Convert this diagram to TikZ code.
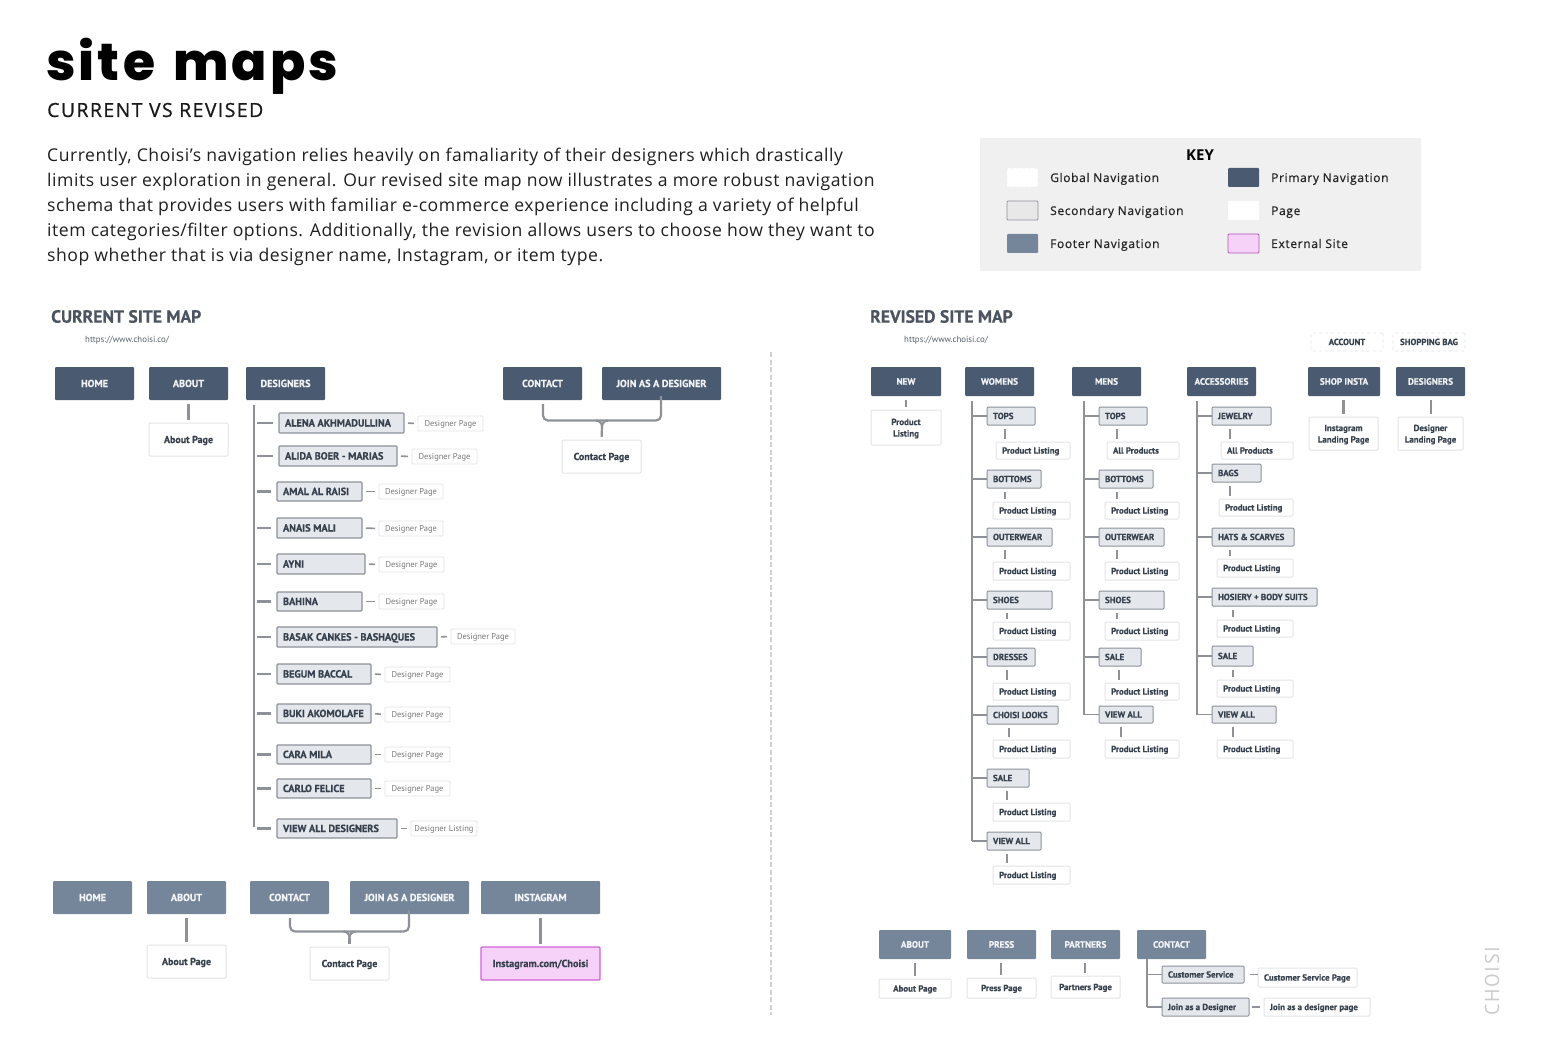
\documentclass[tikz,border=0pt]{standalone}
\usepackage{fontspec}
\setmainfont{Open Sans}
\newfontfamily\titlefont[UprightFont=* ExtraBold,LetterSpace=6]{Poppins}
\newfontfamily\subfont[FakeBold=0.7,LetterSpace=7.2]{Open Sans}
\newfontfamily\keyfont[FakeBold=0.6,LetterSpace=5.4]{Open Sans}
\newfontfamily\bodyfont[LetterSpace=3]{Open Sans}
\newfontfamily\din[BoldFont=* Bold,BoldFeatures={FakeBold=0.5}]{PT Sans}
\usetikzlibrary{calc}
\definecolor{prim}{HTML}{4A5A70}
\definecolor{foot}{HTML}{76869A}
\definecolor{secf}{HTML}{E4E7EB}
\definecolor{secd}{HTML}{8C929A}
\definecolor{pagd}{HTML}{E2E4E7}
\definecolor{linec}{HTML}{8E9298}
\definecolor{labc}{HTML}{37414E}
\definecolor{pinkf}{HTML}{F6D2F9}
\definecolor{pinkd}{HTML}{D062D8}
\definecolor{keybg}{HTML}{F0F0F0}
\tikzset{
  box/.style={inner sep=0pt,outer sep=0pt,rounded corners=1pt},
  caps/.style={text height=#1,text depth=0pt},
  prima/.style={box,caps=7pt,fill=prim,text=white!92!prim,font=\din\bfseries\fontsize{10.2}{11}\selectfont},
  primb/.style={box,caps=6.4pt,fill=prim,text=white!92!prim,font=\din\bfseries\fontsize{9.2}{10}\selectfont},
  foota/.style={box,caps=7pt,fill=foot,text=white!92!foot,font=\din\bfseries\fontsize{10.2}{11}\selectfont},
  footb/.style={box,caps=6.4pt,fill=foot,text=white!92!foot,font=\din\bfseries\fontsize{9.2}{10}\selectfont},
  seca/.style={box,caps=7pt,fill=secf,draw=secd,line width=1.2pt,text=labc,font=\din\bfseries\fontsize{10.3}{12}\selectfont},
  secb/.style={box,caps=6.2pt,fill=secf,draw=secd,line width=1pt,text=labc,font=\din\bfseries\fontsize{8.9}{10}\selectfont},
  pagea/.style={box,caps=7pt,fill=white,draw=pagd,line width=1pt,text=labc,font=\din\bfseries\fontsize{10}{11.5}\selectfont},
  pageb/.style={box,caps=6.2pt,fill=white,draw=pagd,line width=1pt,text=labc,font=\din\bfseries\fontsize{8.9}{11.5}\selectfont},
  pagem/.style={box,fill=white,draw=pagd,line width=1pt,text=labc,align=center,font=\din\bfseries\fontsize{8.9}{11.5}\selectfont},
  pagec/.style={box,caps=6pt,fill=white,draw=pagd,line width=.8pt,text=gray!95!black,font=\din\fontsize{8.5}{10}\selectfont},
  glob/.style={box,caps=6pt,fill=white,draw=pagd,dashed,line width=.8pt,text=labc,font=\din\bfseries\fontsize{8.8}{10}\selectfont},
  ext/.style={box,caps=7pt,fill=pinkf,draw=pinkd,line width=1.4pt,text=labc,font=\din\bfseries\fontsize{10.3}{11}\selectfont},
  conn/.style={draw=linec,line width=2.2pt},
  bracket/.style={draw=linec,line width=2.2pt,rounded corners=5pt},
  keylab/.style={inner sep=0pt,anchor=base west,text=black!85,font=\keyfont\fontsize{12}{14}\selectfont},
  sectitle/.style={inner sep=0pt,anchor=west,text=labc!90!white,font=\din\bfseries\fontsize{17.6}{20}\selectfont},
  urltext/.style={inner sep=0pt,anchor=west,text=labc!85!white,font=\din\fontsize{8.8}{10}\selectfont},
}
% generic box: \bx[style]{name}{x0,y0,x1,y1}{text}
\makeatletter
\newcommand\bx[4][]{\bx@parse{#1}{#2}{#4}#3;}
\def\bx@parse#1#2#3#4,#5,#6,#7;{%
  \pgfmathsetmacro\bxW{#6-#4}\pgfmathsetmacro\bxH{#7-#5}%
  \pgfmathsetmacro\bxX{(#4+#6)/2}\pgfmathsetmacro\bxY{(#5+#7)/2}%
  \node[#1,minimum width=\bxW pt,minimum height=\bxH pt] (#2) at (\bxX,\bxY) {#3};}
% left-aligned box
\newcommand\bxl[4][]{\bxl@parse{#1}{#2}{#4}#3;}
\def\bxl@parse#1#2#3#4,#5,#6,#7;{%
  \pgfmathsetmacro\bxW{#6-#4}\pgfmathsetmacro\bxH{#7-#5}%
  \pgfmathsetmacro\bxX{(#4+#6)/2}\pgfmathsetmacro\bxY{(#5+#7)/2}%
  \node[#1,minimum width=\bxW pt,minimum height=\bxH pt] (#2) at (\bxX,\bxY) {\makebox[\bxW pt][l]{\hspace*{6pt}#3}};}
\makeatother
% vertical link at given x between two boxes
\newcommand\vc[3]{\coordinate (tmpx) at (#3,0);\draw[conn,shorten <=4pt,shorten >=3pt] (#1.south -| tmpx) -- (#2.north -| tmpx);}
% revised tree item: \titem{name}{sec}{label}{linkx}{page}{pagetext}
\newcommand\titem[6]{\bxl[secb]{#1}{#2}{#3}\bxl[pageb]{#1p}{#5}{#6}\vc{#1}{#1p}{#4}\draw[conn,line width=1.6pt] (trunk |- #1.west) -- (#1.west);}
% current tree row: \drow{name}{sec}{label}{page}{pagetext}
\newcommand\drow[5]{\bxl[seca]{#1}{#2}{#3}\bx[pagec]{#1p}{#4}{#5}\draw[conn,shorten <=3pt,shorten >=6pt] (trunk |- #1.west) -- (#1.west);\draw[conn,line width=1.6pt,shorten <=4pt,shorten >=4pt] (#1.east) -- (#1p.west);}
% curly-brace junction at a coordinate, stem going to a node
\newcommand\bracestem[2]{\draw[conn] ($(#1)+(-6,0)$) to[out=0,in=90] ($(#1)+(0,6)$) to[out=90,in=180] ($(#1)+(6,0)$);\draw[conn,shorten >=3pt] ($(#1)+(0,6)$) -- (#2.north);}
\begin{document}
\begin{tikzpicture}[x=1pt,y=-1pt]
\useasboundingbox (0,0) rectangle (1541,1056);
% header
\node[inner sep=0pt,anchor=base west] (title) at (46,81) {\titlefont\fontsize{52}{60}\selectfont site\hspace{5pt} maps};
\node[inner sep=0pt,anchor=base west,text=black!90] (subtitle) at (47,117) {\subfont\fontsize{19.5}{22}\selectfont CURRENT VS REVISED};
\node[inner sep=0pt,anchor=north west,align=left,text=black!88,font=\bodyfont\fontsize{17.6}{25}\selectfont] (body) at (47,148) {Currently, Choisi’s navigation relies heavily on famaliarity of their designers which drastically\\
limits user exploration in general. Our revised site map now illustrates a more robust navigation\\
schema that provides users with familiar e-commerce experience including a variety of helpful\\
item categories/filter options. Additionally, the revision allows users to choose how they want to\\
shop whether that is via designer name, Instagram, or item type.};
% key
\bx[box,fill=keybg]{keybox}{980,138,1421,271}{}
\node[inner sep=0pt,font=\bfseries\fontsize{15}{17}\selectfont] (keyt) at (1200,155.5) {KEY};
\bx[box,fill=white,draw=keybg,dashed,line width=.6pt]{k1}{1007,168,1038,187}{}
\bx[box,fill=prim]{k2}{1228,168,1259,187}{}
\bx[box,fill=black!9,draw=secd,line width=.8pt]{k3}{1007,201,1038,220}{}
\bx[box,fill=white]{k4}{1228,201,1259,220}{}
\bx[box,fill=foot]{k5}{1007,234,1038,253}{}
\bx[box,fill=pinkf,draw=pinkd!85!black,line width=.8pt]{k6}{1228,234,1259,253}{}
\node[keylab] (k1l) at (1050,182) {Global Navigation};
\node[keylab] (k2l) at (1271,182) {Primary Navigation};
\node[keylab] (k3l) at (1050,215) {Secondary Navigation};
\node[keylab] (k4l) at (1271,215) {Page};
\node[keylab] (k5l) at (1050,248) {Footer Navigation};
\node[keylab] (k6l) at (1271,248) {External Site};
% titles
\node[sectitle] (curt) at (51,316.5) {CURRENT SITE MAP};
\node[urltext] (curu) at (85,340.5) {https://www.choisi.co/};
\node[sectitle] (revt) at (870,316.5) {REVISED SITE MAP};
\node[urltext] (revu) at (904,340.5) {https://www.choisi.co/};
% divider
\coordinate (divt) at (770.5,352);\coordinate (divb) at (770.5,1015);
\draw[draw=black!18,line width=2pt,dash pattern=on 5pt off 2.5pt] (divt) -- (divb);
% === current main nav
\bx[prima]{chome}{55,367,134,400}{HOME}
\bx[prima]{cabout}{149,367,228,400}{ABOUT}
\bx[prima]{cdes}{246,367,325,400}{DESIGNERS}
\bx[prima]{ccon}{503,367,582,400}{CONTACT}
\bx[prima]{cjoin}{602,367,721,400}{JOIN AS A DESIGNER}
\bx[pagea]{caboutp}{149,423,228,456}{About Page}
\bx[pagea]{cconp}{562,440,641,473}{Contact Page}
\vc{cabout}{caboutp}{188.5}
\coordinate (b1a) at (543,0);\coordinate (b1b) at (661,0);\coordinate (b1c) at (602,420.5);
\draw[bracket] (ccon.south -| b1a) ++(0,4) |- (b1c) -| ([yshift=4pt]cjoin.south -| b1b);
\bracestem{b1c}{cconp}
\coordinate (trunk) at (254,0);
\drow{d1}{279,413,404,433}{ALENA AKHMADULLINA}{418,416,483,431}{Designer Page}
\drow{d2}{279,446,397,466}{ALIDA BOER - MARIAS}{412,449,477,464}{Designer Page}
\drow{d3}{277,482,362,501}{AMAL AL RAISI}{379,484,443,499}{Designer Page}
\drow{d4}{277,518,362,538}{ANAIS MALI}{379,521,443,536}{Designer Page}
\drow{d5}{277,554,365,574}{AYNI}{379,557,444,572}{Designer Page}
\drow{d6}{277,592,362,611}{BAHINA}{379,594,444,609}{Designer Page}
\drow{d7}{277,627,437,647}{BASAK CANKES - BASHAQUES}{451,629,515,644}{Designer Page}
\drow{d8}{277,664,371,684}{BEGUM BACCAL}{385,667,450,682}{Designer Page}
\drow{d9}{277,704,371,723}{BUKI AKOMOLAFE}{385,707,450,722}{Designer Page}
\drow{d10}{277,745,371,764}{CARA MILA}{385,747,450,762}{Designer Page}
\drow{d11}{277,779,371,798}{CARLO FELICE}{385,781,450,796}{Designer Page}
\drow{d12}{277,819,397,838}{VIEW ALL DESIGNERS}{411,821,477,836}{Designer Listing}
\draw[conn,shorten <=5pt] (cdes.south -| trunk) -- ([yshift=2pt]d12.west -| trunk);
% === current footer
\bx[foota]{fhome}{53,881,132,914}{HOME}
\bx[foota]{fabout}{147,881,226,914}{ABOUT}
\bx[foota]{fcon}{250,881,329,914}{CONTACT}
\bx[foota]{fjoin}{350,881,469,914}{JOIN AS A DESIGNER}
\bx[foota]{fins}{481,881,600,914}{INSTAGRAM}
\bx[pagea]{faboutp}{147,945,226,978}{About Page}
\bx[pagea]{fconp}{310,947,389,980}{Contact Page}
\bx[ext]{finsp}{481,947,600,980}{Instagram.com/Choisi}
\vc{fabout}{faboutp}{186.5}
\vc{fins}{finsp}{540.5}
\coordinate (b2a) at (290,0);\coordinate (b2b) at (409,0);\coordinate (b2c) at (349.5,931.5);
\draw[bracket] (fcon.south -| b2a) ++(0,4) |- (b2c) -| ([yshift=4pt]fjoin.south -| b2b);
\bracestem{b2c}{fconp}
% === revised global
\bx[glob]{account}{1311,333,1383,351}{ACCOUNT}
\bx[glob]{bag}{1393,333,1465,351}{SHOPPING BAG}
% === revised main nav
\bx[primb]{rnew}{871,367,941,396}{NEW}
\bx[primb]{rwom}{965,367,1034,396}{WOMENS}
\bx[primb]{rmen}{1072,367,1141,396}{MENS}
\bx[primb]{racc}{1187,367,1256,396}{ACCESSORIES}
\bx[primb]{rins}{1308,367,1380,396}{SHOP INSTA}
\bx[primb]{rdes}{1396,367,1465,396}{DESIGNERS}
\bx[pagem]{rnewp}{871,410,941,445}{\rule{0pt}{8.5pt}Product\\Listing}
\bx[pagem]{rinsp}{1309,417,1378,450}{\rule{0pt}{8.5pt}Instagram\\Landing Page}
\bx[pagem]{rdesp}{1398,417,1463,450}{\rule{0pt}{8.5pt}Designer\\Landing Page}
\vc{rnew}{rnewp}{906}
\vc{rins}{rinsp}{1343.5}
\vc{rdes}{rdesp}{1431}
% womens
\coordinate (trunk) at (972,0);
\titem{w1}{987,407,1035,425}{TOPS}{1005}{996,442,1070,459}{Product Listing}
\titem{w2}{987,470,1041,488}{BOTTOMS}{1005}{993,502,1070,519}{Product Listing}
\titem{w3}{987,528,1052,546}{OUTERWEAR}{1005}{993,562,1070,580}{Product Listing}
\titem{w4}{987,591,1052,609}{SHOES}{1007}{993,622,1070,640}{Product Listing}
\titem{w5}{987,648,1035,666}{DRESSES}{1007}{993,683,1070,700}{Product Listing}
\titem{w6}{987,706,1058,724}{CHOISI LOOKS}{1009}{993,740,1070,758}{Product Listing}
\titem{w7}{987,769,1029,787}{SALE}{1007}{993,803,1070,821}{Product Listing}
\titem{w8}{987,832,1041,850}{VIEW ALL}{1007}{993,866,1070,884}{Product Listing}
\draw[conn,shorten <=5pt] (rwom.south -| trunk) -- (w8.west -| trunk);
% mens
\coordinate (trunk) at (1084,0);
\titem{m1}{1099,407,1147,425}{TOPS}{1117}{1107,442,1179,459}{All Products}
\titem{m2}{1099,470,1153,488}{BOTTOMS}{1117}{1105,502,1179,519}{Product Listing}
\titem{m3}{1099,528,1164,546}{OUTERWEAR}{1117}{1105,562,1179,580}{Product Listing}
\titem{m4}{1099,591,1164,609}{SHOES}{1117}{1105,622,1179,640}{Product Listing}
\titem{m5}{1099,648,1141,666}{SALE}{1119}{1105,683,1179,700}{Product Listing}
\titem{m6}{1099,706,1153,723}{VIEW ALL}{1121}{1105,740,1179,758}{Product Listing}
\draw[conn,shorten <=5pt] (rmen.south -| trunk) -- (m6.west -| trunk);
% accessories
\coordinate (trunk) at (1197,0);
\titem{a1}{1212,407,1271,425}{JEWELRY}{1230}{1221,442,1293,459}{All Products}
\titem{a2}{1212,464,1261,482}{BAGS}{1230}{1219,499,1293,516}{Product Listing}
\titem{a3}{1212,528,1294,546}{HATS \& SCARVES}{1230}{1217,559,1293,577}{Product Listing}
\titem{a4}{1212,588,1317,606}{HOSIERY + BODY SUITS}{1233}{1217,620,1293,637}{Product Listing}
\titem{a5}{1212,646,1253,666}{SALE}{1233}{1217,680,1293,697}{Product Listing}
\titem{a6}{1212,706,1276,723}{VIEW ALL}{1233}{1217,740,1293,758}{Product Listing}
\draw[conn,shorten <=5pt] (racc.south -| trunk) -- (a6.west -| trunk);
% === revised footer
\bx[footb]{qabout}{879,930,951,959}{ABOUT}
\bx[footb]{qpress}{967,930,1036,959}{PRESS}
\bx[footb]{qpart}{1051,930,1120,959}{PARTNERS}
\bx[footb]{qcon}{1137,930,1206,959}{CONTACT}
\bx[pageb]{qaboutp}{879,979,951,998}{About Page}
\bx[pageb]{qpressp}{967,978,1036,998}{Press Page}
\bx[pageb]{qpartp}{1051,976,1120,998}{Partners Page}
\vc{qabout}{qaboutp}{915}
\vc{qpress}{qpressp}{1001}
\vc{qpart}{qpartp}{1085}
\coordinate (trunk) at (1147,0);
\bxl[secb]{q1}{1162,966,1244,983}{Customer Service}
\bxl[secb]{q2}{1162,998,1249,1016}{Join as a Designer}
\bxl[pageb]{q1p}{1258,968,1357,987}{Customer Service Page}
\bxl[pageb]{q2p}{1264,998,1370,1016}{Join as a designer page}
\draw[conn,line width=1.6pt] (trunk |- q1.west) -- (q1.west);
\draw[conn,line width=1.6pt] (trunk |- q2.west) -- (q2.west);
\draw[conn,line width=1.6pt] (qcon.south -| trunk) -- (q2.west -| trunk);
\draw[conn,line width=1.6pt,shorten <=6pt,shorten >=0pt] (q1.east) -- (q1p.west |- q1.east);
\draw[conn,line width=1.6pt,shorten <=3pt,shorten >=4pt] (q2.east) -- (q2p.west |- q2.east);
% watermark
\node[inner sep=0pt,rotate=90,text=black!20,font=\din\fontsize{20}{22}\selectfont\addfontfeatures{LetterSpace=8}] (wm) at (1492,981) {CHOISI};
\end{tikzpicture}
\end{document}
